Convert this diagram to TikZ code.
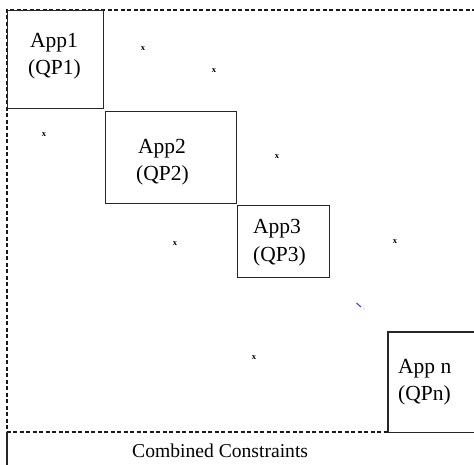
\documentclass[tikz,border=0pt]{standalone}
\usepackage{fontspec}
\setmainfont{Liberation Serif}
\begin{document}
\begin{tikzpicture}[x=1bp,y=-1bp,
  box/.style={draw=black!85, line width=1.3bp, inner sep=0pt, anchor=north west},
  openbox/.style={inner sep=0pt, anchor=north west},
  lbl/.style={font=\fontsize{21.5bp}{26bp}\selectfont, inner sep=0pt, anchor=base west},
  cc/.style={font=\fontsize{19.6bp}{22bp}\selectfont, inner sep=0pt, anchor=base west},
  mk/.style={font=\fontsize{8.5bp}{9bp}\selectfont\bfseries, inner sep=0pt},
  framedash/.style={draw=black!90, line width=1.3bp, dash pattern=on 4bp off 2.5bp},
  framesolid/.style={draw=black!85, line width=1.3bp}]
\useasboundingbox (0,0) rectangle (474,465);
% frame corners
\coordinate (tr) at (476,10);
\coordinate (tl) at (7,10);
\coordinate (bl) at (7,432);
\coordinate (bm) at (388,432);
\coordinate (bot) at (7,467);
\draw[framedash] (tr) -- (tl) -- (bl) -- (bm);
\draw[framesolid] (bl) -- (bot);
% boxes
\node[box, minimum width=96bp, minimum height=98bp] (b1) at (7,10) {};
\node[box, minimum width=131bp, minimum height=92bp] (b2) at (105,111) {};
\node[box, minimum width=92bp, minimum height=72bp] (b3) at (237,205) {};
\node[openbox, minimum width=110bp, minimum height=100bp] (bn) at (388,332) {};
\draw[framesolid] (bn.north east) -- (bn.north west) -- (bn.south west) -- (bn.south east);
% labels
\node[lbl] (t1a) at (30,48) {App1};
\node[lbl] (t1b) at (28,75) {(QP1)};
\node[lbl] (t2a) at (138,154) {App2};
\node[lbl] (t2b) at (136,181) {(QP2)};
\node[lbl] (t3a) at (253,234) {App3};
\node[lbl] (t3b) at (253,261) {(QP3)};
\node[lbl] (tna) at (398,373) {App n};
\node[lbl] (tnb) at (398,400) {(QPn)};
\node[cc] (comb) at (132,457) {Combined Constraints};
% small marks
\node[mk] (m1) at (143,49) {x};
\node[mk] (m2) at (214,71) {x};
\node[mk] (m3) at (44,135) {x};
\node[mk] (m4) at (277,157) {x};
\node[mk] (m5) at (175,244) {x};
\node[mk] (m6) at (395,242) {x};
\node[mk] (m7) at (254,358) {x};
% blue speck
\coordinate (s1) at (356.5,303);
\coordinate (s2) at (361,307);
\draw[blue!80, line width=1bp] (s1) -- (s2);
\fill[blue!50] (364,309) circle (0.6bp);
\end{tikzpicture}
\end{document}
